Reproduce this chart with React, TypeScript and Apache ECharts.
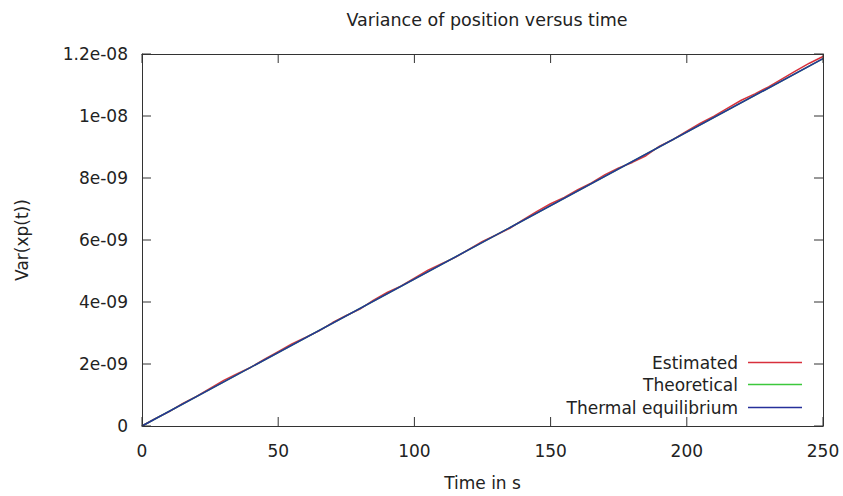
import React, { useEffect, useRef } from "react";
import * as echarts from "echarts";

const timeTheory = [0, 250];
const theoretical = [0, 1.185e-8];
const thermal = [0, 1.185e-8];

const timeEst = [
  0, 5, 10, 15, 20, 25, 30, 35, 40, 45, 50, 55, 60, 65, 70, 75, 80, 85, 90, 95, 100,
  105, 110, 115, 120, 125, 130, 135, 140, 145, 150, 155, 160, 165, 170, 175, 180, 185,
  190, 195, 200, 205, 210, 215, 220, 225, 230, 235, 240, 245, 250,
];
const estimated = [
  0, 0.247e-9, 0.464e-9, 0.731e-9, 0.958e-9, 1.215e-9, 1.472e-9, 1.689e-9, 1.896e-9,
  2.153e-9, 2.4e-9, 2.647e-9, 2.854e-9, 3.071e-9, 3.338e-9, 3.565e-9, 3.772e-9, 4.059e-9,
  4.306e-9, 4.513e-9, 4.77e-9, 5.027e-9, 5.234e-9, 5.441e-9, 5.698e-9, 5.955e-9, 6.162e-9,
  6.379e-9, 6.656e-9, 6.923e-9, 7.17e-9, 7.377e-9, 7.624e-9, 7.841e-9, 8.108e-9, 8.325e-9,
  8.502e-9, 8.719e-9, 9.026e-9, 9.243e-9, 9.51e-9, 9.767e-9, 9.994e-9, 10.251e-9,
  10.508e-9, 10.715e-9, 10.942e-9, 11.199e-9, 11.456e-9, 11.703e-9, 11.92e-9,
];

const xTicks = [0, 50, 100, 150, 200, 250];
const xTickLabels = ["0", "50", "100", "150", "200", "250"];
const yTicks = [0, 2e-9, 4e-9, 6e-9, 8e-9, 1e-8, 1.2e-8];
const yTickLabels = ["0", "2e-09", "4e-09", "6e-09", "8e-09", "1e-08", "1.2e-08"];

const seriesNames = ["Estimated", "Theoretical", "Thermal equilibrium"];
const seriesColors = ["#d8303c", "#3cc83c", "#26309a"];

const FONT = "DejaVu Sans";
const FS = 17;
const TXT = "#222";
const AXC = "#333";
const TICK_LEN = 9;

const X_MIN = xTicks[0];
const X_MAX = xTicks[xTicks.length - 1];
const Y_MIN = yTicks[0];
const Y_MAX = yTicks[yTicks.length - 1];

const nearest = (ticks: number[], labels: string[], v: number) => {
  let best = 0;
  for (let i = 1; i < ticks.length; i++) {
    if (Math.abs(ticks[i] - v) < Math.abs(ticks[best] - v)) best = i;
  }
  return labels[best];
};

const tickStyle = { stroke: AXC, lineWidth: 1 };

export default function App() {
  const ref = useRef<HTMLDivElement>(null);
  useEffect(() => {
    if (!ref.current) return;
    const chart = echarts.init(ref.current, undefined, { renderer: "svg" });
    const legendTops = [349, 371, 394];
    chart.setOption({
      animation: false,
      title: {
        text: "Variance of position versus time",
        left: 482,
        top: 6,
        textAlign: "center",
        textStyle: { fontFamily: FONT, fontSize: 17.5, fontWeight: "normal", color: TXT },
      },
      legend: seriesNames.map((n, i) => ({
        data: [n],
        right: 36,
        top: legendTops[i],
        align: "right",
        icon: "rect",
        itemWidth: 54,
        itemHeight: 1.5,
        textStyle: { fontFamily: FONT, fontSize: FS, color: TXT, padding: [0, 5, 0, 0] },
        selectedMode: false,
      })),
      grid: { left: 142, right: 20, top: 54, bottom: 69 },
      xAxis: [
        {
          type: "value",
          min: X_MIN,
          max: X_MAX,
          interval: 50,
          name: "Time in s",
          nameLocation: "middle",
          nameGap: 48,
          nameTextStyle: { fontFamily: FONT, fontSize: FS, color: TXT },
          axisLine: { show: true, onZero: false, lineStyle: { color: AXC } },
          axisTick: { show: false },
          splitLine: { show: false },
          axisLabel: {
            margin: 16,
            fontFamily: FONT,
            fontSize: FS,
            color: TXT,
            formatter: (v: number) => nearest(xTicks, xTickLabels, v),
          },
        },
        {
          type: "value",
          position: "top",
          min: X_MIN,
          max: X_MAX,
          interval: 50,
          axisLine: { show: true, onZero: false, lineStyle: { color: AXC } },
          axisTick: { show: false },
          splitLine: { show: false },
          axisLabel: { show: false },
        },
      ],
      yAxis: [
        {
          type: "value",
          min: Y_MIN,
          max: Y_MAX,
          interval: 2e-9,
          name: "Var(xp(t))",
          nameLocation: "middle",
          nameRotate: 90,
          nameGap: 112,
          nameTextStyle: { fontFamily: FONT, fontSize: FS, color: TXT },
          axisLine: { show: true, onZero: false, lineStyle: { color: AXC } },
          axisTick: { show: false },
          splitLine: { show: false },
          axisLabel: {
            margin: 14,
            fontFamily: FONT,
            fontSize: FS,
            color: TXT,
            formatter: (v: number) => nearest(yTicks, yTickLabels, v),
          },
        },
        {
          type: "value",
          position: "right",
          min: Y_MIN,
          max: Y_MAX,
          interval: 2e-9,
          axisLine: { show: true, onZero: false, lineStyle: { color: AXC } },
          axisTick: { show: false },
          splitLine: { show: false },
          axisLabel: { show: false },
        },
      ],
      series: [
        {
          name: seriesNames[0],
          type: "line",
          symbol: "none",
          color: seriesColors[0],
          lineStyle: { width: 1.5 },
          data: timeEst.map((t, i) => [t, estimated[i]]),
        },
        {
          name: seriesNames[1],
          type: "line",
          symbol: "none",
          color: seriesColors[1],
          lineStyle: { width: 1.5 },
          data: timeTheory.map((t, i) => [t, theoretical[i]]),
        },
        {
          name: seriesNames[2],
          type: "line",
          symbol: "none",
          color: seriesColors[2],
          lineStyle: { width: 1.5 },
          data: timeTheory.map((t, i) => [t, thermal[i]]),
        },
        {
          name: "xTickMarks",
          type: "custom",
          silent: true,
          clip: false,
          z: 5,
          encode: { x: 0, y: 1 },
          data: xTicks.map((v) => [v, Y_MIN]),
          renderItem: (_p: any, api: any) => {
            const v = api.value(0);
            const a = api.coord([v, Y_MIN]);
            const b = api.coord([v, Y_MAX]);
            return {
              type: "group",
              children: [
                { type: "line", shape: { x1: a[0], y1: a[1], x2: a[0], y2: a[1] - TICK_LEN }, style: tickStyle },
                { type: "line", shape: { x1: b[0], y1: b[1], x2: b[0], y2: b[1] + TICK_LEN }, style: tickStyle },
              ],
            };
          },
        },
        {
          name: "yTickMarks",
          type: "custom",
          silent: true,
          clip: false,
          z: 5,
          encode: { x: 0, y: 1 },
          data: yTicks.map((v) => [X_MIN, v]),
          renderItem: (_p: any, api: any) => {
            const v = api.value(1);
            const a = api.coord([X_MIN, v]);
            const b = api.coord([X_MAX, v]);
            return {
              type: "group",
              children: [
                { type: "line", shape: { x1: a[0], y1: a[1], x2: a[0] + TICK_LEN, y2: a[1] }, style: tickStyle },
                { type: "line", shape: { x1: b[0], y1: b[1], x2: b[0] - TICK_LEN, y2: b[1] }, style: tickStyle },
              ],
            };
          },
        },
      ],
    });
    return () => chart.dispose();
  }, []);
  return (
    <div
      ref={ref}
      style={{ position: "fixed", left: 0, top: 0, width: 843, height: 496, background: "#fff" }}
    />
  );
}
